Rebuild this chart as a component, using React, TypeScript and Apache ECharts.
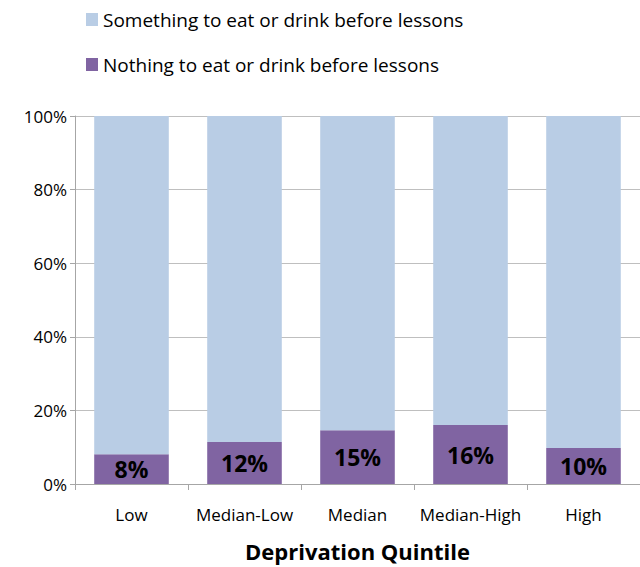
import React, { useEffect, useRef } from "react";
import * as echarts from "echarts";

const categories = ["Low", "Median-Low", "Median", "Median-High", "High"];
const nothingValues = [8.1, 11.4, 14.6, 16.0, 9.8];
const nothingLabels = ["8%", "12%", "15%", "16%", "10%"];
const somethingValues = nothingValues.map((v) => 100 - v);
const yTicks = { min: 0, max: 100, interval: 20 };
const seriesNames = [
  "Something to eat or drink before lessons",
  "Nothing to eat or drink before lessons",
];

const FONT = "'Open Sans', 'Noto Sans', sans-serif";

export default function App() {
  const ref = useRef<HTMLDivElement>(null);
  useEffect(() => {
    if (!ref.current) return;
    const chart = echarts.init(ref.current, null, { renderer: "svg" });
    chart.setOption({
      animation: false,
      backgroundColor: "#ffffff",
      textStyle: { fontFamily: FONT },
      legend: {
        orient: "vertical",
        left: 81,
        top: 5,
        itemWidth: 12,
        itemHeight: 13,
        itemGap: 26,
        itemStyle: { borderWidth: 0 },
        icon: "rect",
        data: seriesNames,
        textStyle: { fontSize: 19, color: "#000", fontFamily: FONT },
      },
      grid: { left: 75, right: 0, top: 116, bottom: 82, containLabel: false },
      xAxis: {
        type: "category",
        data: categories,
        name: "Deprivation Quintile",
        nameLocation: "middle",
        nameGap: 56,
        nameTextStyle: { fontSize: 22, fontWeight: "bold", color: "#000", fontFamily: FONT },
        axisLine: { show: true, lineStyle: { color: "#a6a6a6", width: 1 } },
        axisTick: { show: true, length: 6, lineStyle: { color: "#a6a6a6" } },
        axisLabel: { fontSize: 17, color: "#000", margin: 22, interval: 0, fontFamily: FONT },
      },
      yAxis: {
        type: "value",
        min: yTicks.min,
        max: yTicks.max,
        interval: yTicks.interval,
        axisLine: { show: true, lineStyle: { color: "#a6a6a6", width: 1 } },
        axisTick: { show: true, length: 5, lineStyle: { color: "#a6a6a6" } },
        axisLabel: { formatter: "{value}%", fontSize: 17, color: "#000", margin: 8, fontFamily: FONT },
        splitLine: { show: true, lineStyle: { color: "#bfbfbf", width: 1 } },
      },
      series: [
        {
          name: seriesNames[1],
          type: "bar",
          stack: "total",
          data: nothingValues,
          barWidth: "66%",
          itemStyle: { color: "#8064a2" },
          label: {
            show: true,
            position: "inside",
            formatter: (p: any) => nothingLabels[p.dataIndex],
            fontSize: 23,
            fontWeight: "bold",
            color: "#000",
            fontFamily: FONT,
          },
        },
        {
          name: seriesNames[0],
          type: "bar",
          stack: "total",
          data: somethingValues,
          barWidth: "66%",
          itemStyle: { color: "#b9cde5" },
        },
      ],
    });
    return () => chart.dispose();
  }, []);
  return <div ref={ref} style={{ width: 640, height: 567, position: "absolute", left: 0, top: 0 }} />;
}
